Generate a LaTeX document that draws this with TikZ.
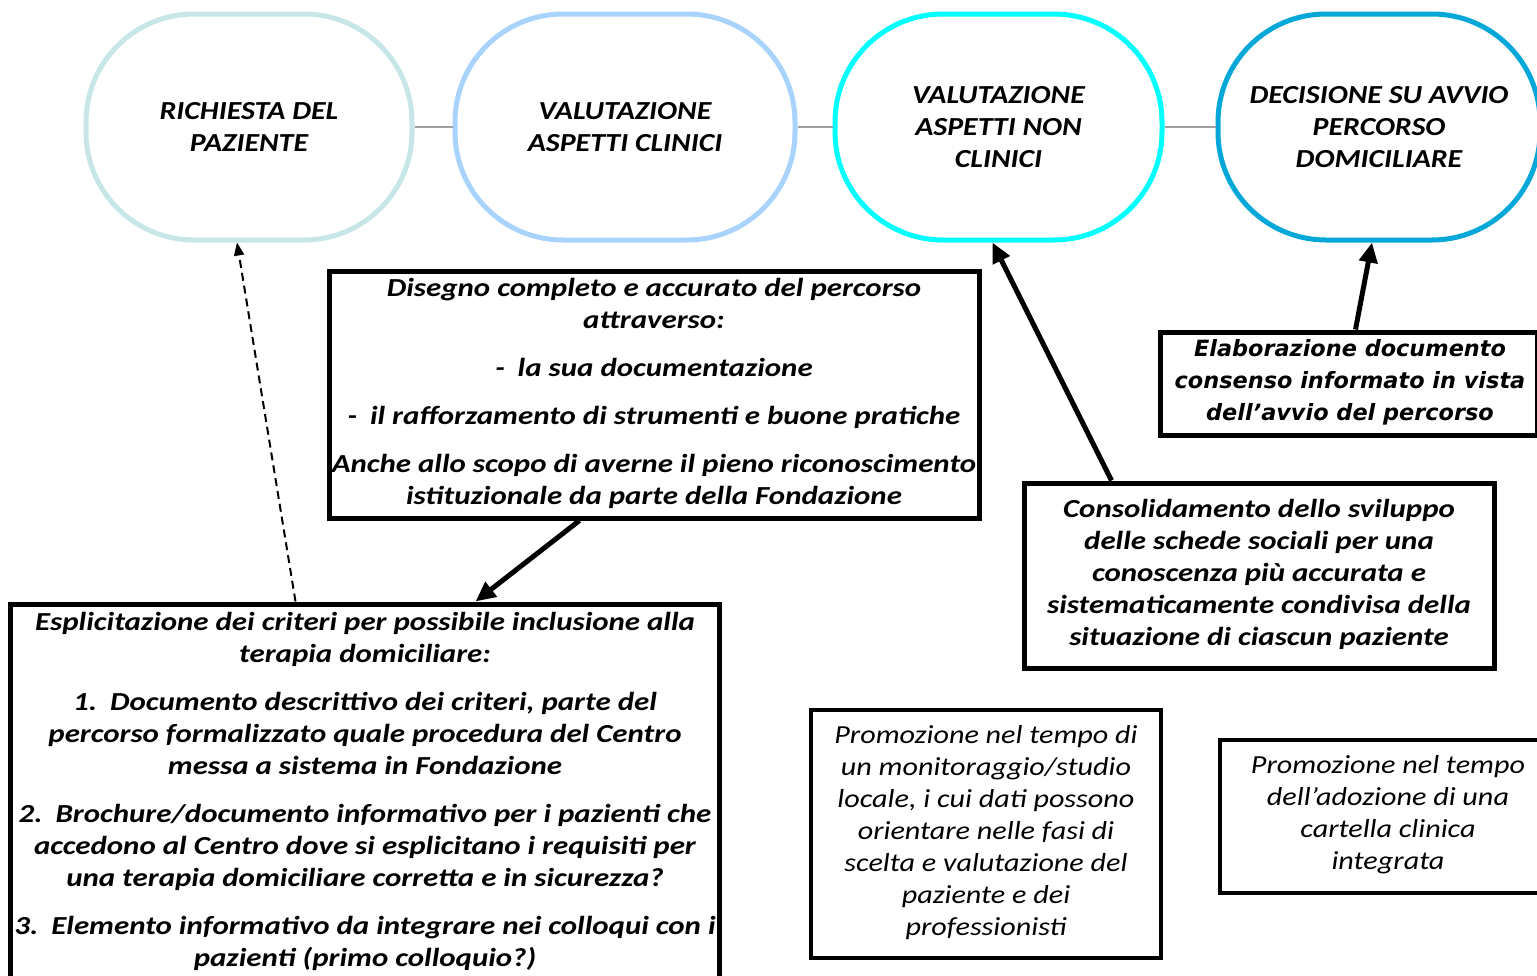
\documentclass[tikz,border=0pt]{standalone}
\usepackage{fontspec}
\setmainfont{Carlito}
\newfontfamily\cbi{Carlito}[FakeStretch=1.19]
\newfontfamily\cri{Carlito}[FakeStretch=1.16]
\newfontfamily\csh{Carlito}[FakeStretch=1.15]
\newfontfamily\dvfont{DejaVu Sans}
\usetikzlibrary{arrows.meta}
\definecolor{cone}{HTML}{C6E6E8}
\definecolor{ctwo}{HTML}{A8D3FD}
\definecolor{cthree}{HTML}{00FFFF}
\definecolor{cfour}{HTML}{03A8D8}
\definecolor{linkgray}{HTML}{A0A0A0}
\begin{document}
\begin{tikzpicture}[x=1pt,y=-1pt,
  stage/.style={draw, line width=5pt, rounded corners=108pt, minimum height=226pt, inner sep=0pt, align=center, font=\csh\fontsize{26}{32}\selectfont\bfseries\itshape},
  box/.style={draw, line width=5pt, inner sep=0pt},
  txtb/.style={align=center, inner sep=0pt, font=\cbi\fontsize{26}{32}\selectfont\bfseries\itshape},
  txtr/.style={align=center, inner sep=0pt, font=\cri\fontsize{26}{32}\selectfont\itshape},
  txtv/.style={align=center, inner sep=0pt, font=\dvfont\fontsize{22.4}{32}\selectfont\bfseries\itshape},
  link/.style={draw=linkgray, line width=2pt},
  bigarrow/.style={line width=5pt, -{Triangle[length=20pt,width=18pt]}},
  dasharrow/.style={line width=2pt, dash pattern=on 8pt off 5pt, -{Triangle[length=13pt,width=10pt]}}
]
\useasboundingbox (0,0) rectangle (1537,975);

% stages
\node[stage, draw=cone, minimum width=326pt] (s1) at (249,127) {RICHIESTA DEL\\PAZIENTE};
\node[stage, draw=ctwo, minimum width=340pt] (s2) at (625,127) {VALUTAZIONE\\ASPETTI CLINICI};
\node[stage, draw=cthree, minimum width=327pt] (s3) at (998.5,127) {VALUTAZIONE\\ASPETTI NON\\CLINICI};
\node[stage, draw=cfour, minimum width=322pt] (s4) at (1379,127) {DECISIONE SU AVVIO\\PERCORSO\\DOMICILIARE};

\draw[link] (s1.east) -- (s2.west);
\draw[link] (s2.east) -- (s3.west);
\draw[link] (s3.east) -- (s4.west);

% boxes
\node[box, minimum width=650pt, minimum height=247pt] (bA) at (654,394.5) {};
\node[box, minimum width=377pt, minimum height=103pt] (bB) at (1348.5,383.5) {};
\node[box, minimum width=470pt, minimum height=185pt] (bC) at (1259,575.5) {};
\node[box, minimum width=709pt, minimum height=374pt] (bD) at (364.5,791) {};
\node[box, line width=4pt, minimum width=350pt, minimum height=248pt] (bE) at (986,834) {};
\node[box, line width=4pt, minimum width=325pt, minimum height=153pt] (bF) at (1382.5,816.5) {};

% texts
\node[txtb] (tA) at (654,393) {Disegno completo e accurato del percorso\\attraverso:\\[16pt]
-\enspace la sua documentazione\\[16pt]
-\enspace il rafforzamento di strumenti e buone pratiche\\[16pt]
Anche allo scopo di averne il pieno riconoscimento\\istituzionale da parte della Fondazione};

\node[txtv] (tB) at (1350,382) {Elaborazione documento\\consenso informato in vista\\dell’avvio del percorso};

\node[txtb] (tC) at (1259,574) {Consolidamento dello sviluppo\\delle schede sociali per una\\conoscenza più accurata e\\sistematicamente condivisa della\\situazione di ciascun paziente};

\node[txtb] (tD) at (365,791) {Esplicitazione dei criteri per possibile inclusione alla\\terapia domiciliare:\\[16pt]
1.\enspace Documento descrittivo dei criteri, parte del\\percorso formalizzato quale procedura del Centro\\messa a sistema in Fondazione\\[16pt]
2.\enspace Brochure/documento informativo per i pazienti che\\accedono al Centro dove si esplicitano i requisiti per\\una terapia domiciliare corretta e in sicurezza?\\[16pt]
3.\enspace Elemento informativo da integrare nei colloqui con i\\pazienti (primo colloquio?)};

\node[txtr] (tE) at (986,833) {Promozione nel tempo di\\un monitoraggio/studio\\locale, i cui dati possono\\orientare nelle fasi di\\scelta e valutazione del\\paziente e dei\\professionisti};

\node[txtr] (tF) at (1388,815) {Promozione nel tempo\\dell’adozione di una\\cartella clinica\\integrata};

% arrows
\draw[dasharrow] ([xshift=288pt]bD.north west) -- ([xshift=-12pt]s1.south);
\draw[bigarrow] ([xshift=253pt]bA.south west) -- ([xshift=468pt]bD.north west);
\draw[bigarrow] ([xshift=90pt]bC.north west) -- ([xshift=-6pt]s3.south);
\draw[bigarrow] ([xshift=198pt]bB.north west) -- ([xshift=-7pt]s4.south);
\end{tikzpicture}
\end{document}
